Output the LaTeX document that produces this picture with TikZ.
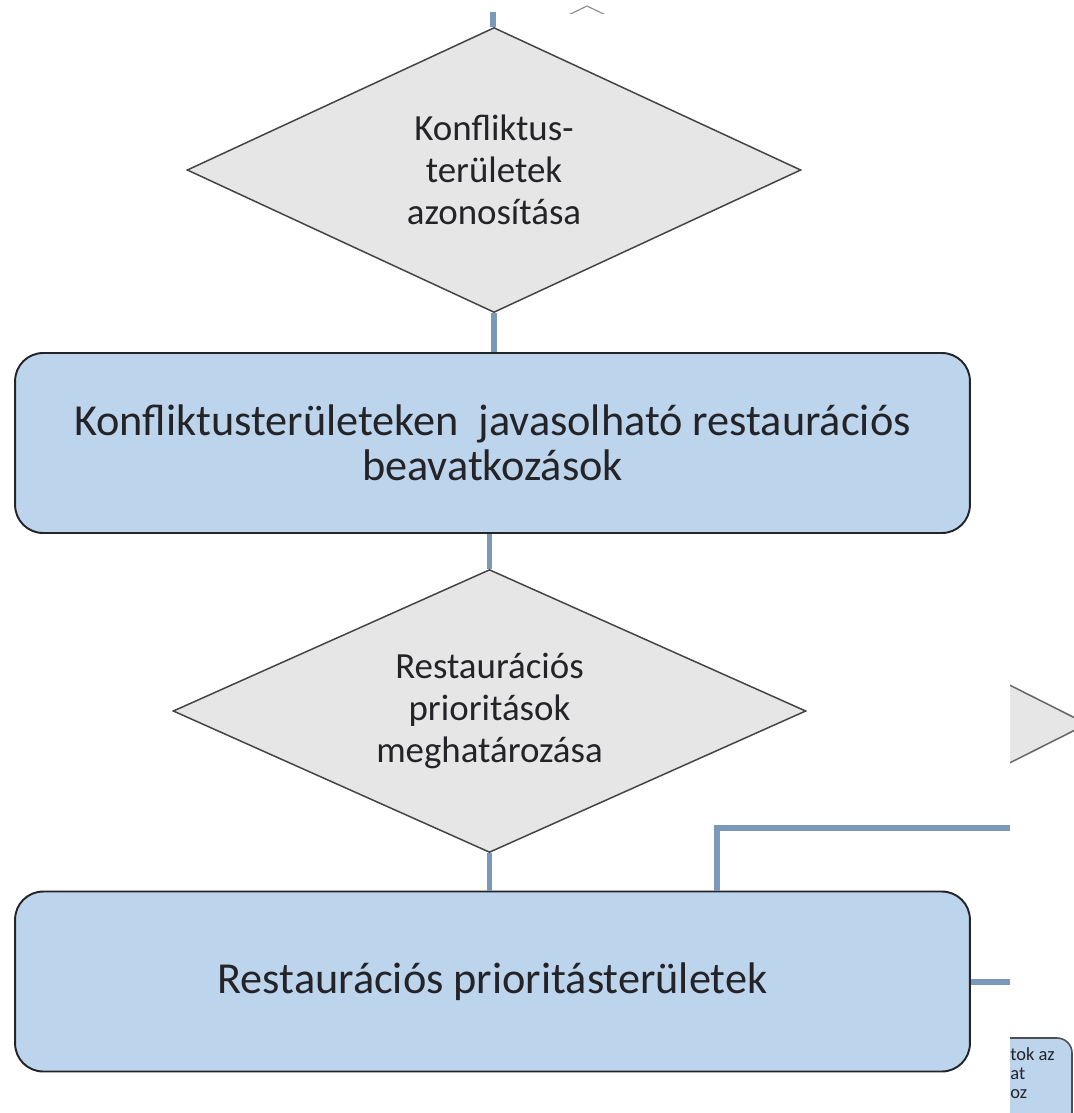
\documentclass[tikz,border=0pt]{standalone}
\usepackage{fontspec}
\setmainfont{Carlito}
\usetikzlibrary{shapes.geometric}
\usetikzlibrary{positioning}
\definecolor{boxblue}{RGB}{188,213,236}
\definecolor{diagrey}{RGB}{230,230,230}
\definecolor{linkblue}{RGB}{122,152,186}
\definecolor{inkdark}{RGB}{35,35,40}
\tikzset{
decision/.style 2 args={diamond, aspect=2.2, draw=inkdark!85, line width=0.85pt,
	fill=diagrey, inner sep=0pt, minimum width=#1, minimum height=#2,
	align=center, text=inkdark, font=\fontsize{21}{24}\selectfont},
process/.style={rectangle, rounded corners=0.56cm, draw=inkdark, line width=1.1pt,
	fill=boxblue, minimum width=19.1cm, minimum height=3.6cm,
	align=center, text=inkdark, font=\fontsize{25.2}{25.6}\selectfont},
link/.style={draw=linkblue, line width=3.4pt},
}

\begin{document}
\begin{tikzpicture}[x=0.02cm, y=-0.02cm]
\useasboundingbox (0,0) rectangle (1074,1113);
\clip (0,0) rectangle (1074,1113);
%Place the nodes
\node[decision={12.28cm}{5.7cm}] (konf) at (494,170) {Konfliktus-\\területek\\azonosítása};
\node[process] (beav) at (492.5,443) {Konfliktusterületeken\ \ javasolható restaurációs\\beavatkozások};
\node[decision={12.66cm}{5.66cm}] (prio) at (489.5,711) {Restaurációs\\prioritások\\meghatározása};
\node[process] (terul) at (492.5,981.5) {Restaurációs prioritásterületek};

\coordinate (in) at (493,12);
\coordinate (knee) at (717,828);
\coordinate (outA) at (1010,828);
\coordinate (outB) at (1010,980);

%
\draw[link] (in) -- (in |- konf.north);
\draw[link] (konf.south) -- (konf.south |- beav.north);
\draw[link] (beav.south -| prio.north) -- (prio.north);
\draw[link] (prio.south) -- (prio.south |- terul.north);

%
\draw[link] (terul.north -| knee) -- (knee) -- (outA);
\draw[link] (terul.east) -- (terul.east -| outB);

% cut-off pieces at the edges
\begin{scope}
\clip (0,0) rectangle (1074,13);
\draw[inkdark!55, line width=0.6pt] (560,19) -- (587,6) -- (614,19);
\end{scope}
\begin{scope}
\clip (1010,0) rectangle (1074,1113);
\draw[draw=inkdark!70, fill=diagrey, line width=0.85pt] (940,650) -- (1087,724) -- (940,798);
\draw[draw=inkdark!80, fill=boxblue, line width=0.9pt, rounded corners=0.3cm]
	(960,1150) -- (960,1038) -- (1072,1038) -- (1072,1150);
\node[anchor=north west, align=left, inner sep=0pt, text=inkdark,
	font=\fontsize{10.5}{11}\selectfont] (rest) at (1010,1047) {tok az\\at\\oz};
\end{scope}

\end{tikzpicture}
\end{document}
